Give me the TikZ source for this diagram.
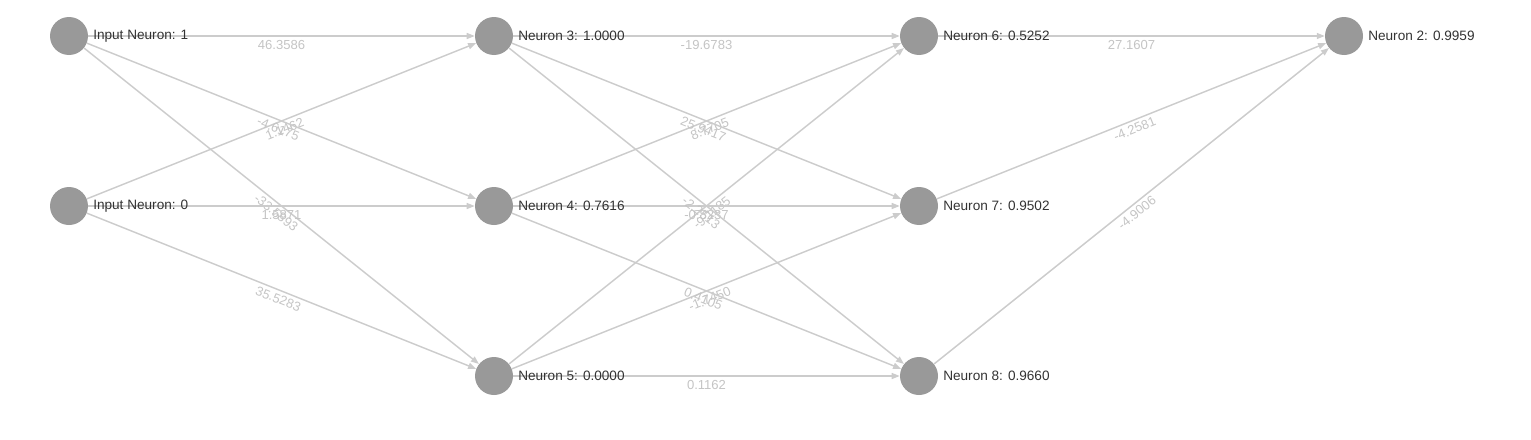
\documentclass[tikz,border=0pt]{standalone}
\usepackage{fontspec}
\setmainfont{Liberation Sans}
\usetikzlibrary{arrows.meta}
\definecolor{nodefill}{HTML}{999999}
\definecolor{edgecol}{HTML}{CCCCCC}
\definecolor{wcol}{HTML}{C4C4C4}
\definecolor{labcol}{HTML}{333333}
\tikzset{
  neuron/.style={circle,fill=nodefill,minimum size=28.5pt,inner sep=0pt},
  nlabel/.style={anchor=west,inner sep=0pt,text=labcol,font=\fontsize{10.2pt}{11pt}\selectfont},
  conn/.style={draw=edgecol,line width=1.1pt,-{Triangle[length=6pt,width=4.5pt]}},
  wlab/.style={midway,sloped,below,inner sep=2.4pt,text=wcol,font=\fontsize{9.8pt}{11pt}\selectfont}
}
\begin{document}
\begin{tikzpicture}[x=0.75pt,y=-0.75pt]
\useasboundingbox (0,0) rectangle (1531,439);
% nodes
\node[neuron] (i1) at (69,36) {};
\node[neuron] (i0) at (69,206) {};
\node[neuron] (n3) at (494,36) {};
\node[neuron] (n4) at (494,206) {};
\node[neuron] (n5) at (494,376) {};
\node[neuron] (n6) at (919,36) {};
\node[neuron] (n7) at (919,206) {};
\node[neuron] (n8) at (919,376) {};
\node[neuron] (n2) at (1344,36) {};
% connectors
\draw[conn] (i1) -- node[wlab] {46.3586} (n3);
\draw[conn] (i0) -- node[wlab] {1.1462} (n3);
\draw[conn] (i1) -- node[wlab] {-4.6175} (n4);
\draw[conn] (i1) -- node[wlab] {-33.5893} (n5);
\draw[conn] (i0) -- node[wlab] {1.5871} (n4);
\draw[conn] (i0) -- node[wlab] {35.5283} (n5);
\draw[conn] (n3) -- node[wlab] {-19.6783} (n6);
\draw[conn] (n4) -- node[wlab] {8.7705} (n6);
\draw[conn] (n3) -- node[wlab] {25.9417} (n7);
\draw[conn] (n5) -- node[wlab] {-9.1185} (n6);
\draw[conn] (n4) -- node[wlab] {-0.8237} (n7);
\draw[conn] (n3) -- node[wlab] {-2.2513} (n8);
\draw[conn] (n5) -- node[wlab] {-1.7450} (n7);
\draw[conn] (n4) -- node[wlab] {0.4105} (n8);
\draw[conn] (n5) -- node[wlab] {0.1162} (n8);
\draw[conn] (n6) -- node[wlab] {27.1607} (n2);
\draw[conn] (n7) -- node[wlab] {-4.2581} (n2);
\draw[conn] (n8) -- node[wlab] {-4.9006} (n2);
% node labels
\node[nlabel] (l1) at (93,36) {Input Neuron: 1};
\node[nlabel] (l0) at (93,206) {Input Neuron: 0};
\node[nlabel] (l3) at (518,36) {Neuron 3: 1.0000};
\node[nlabel] (l4) at (518,206) {Neuron 4: 0.7616};
\node[nlabel] (l5) at (518,376) {Neuron 5: 0.0000};
\node[nlabel] (l6) at (943,36) {Neuron 6: 0.5252};
\node[nlabel] (l7) at (943,206) {Neuron 7: 0.9502};
\node[nlabel] (l8) at (943,376) {Neuron 8: 0.9660};
\node[nlabel] (l2) at (1368,36) {Neuron 2: 0.9959};
\end{tikzpicture}
\end{document}
